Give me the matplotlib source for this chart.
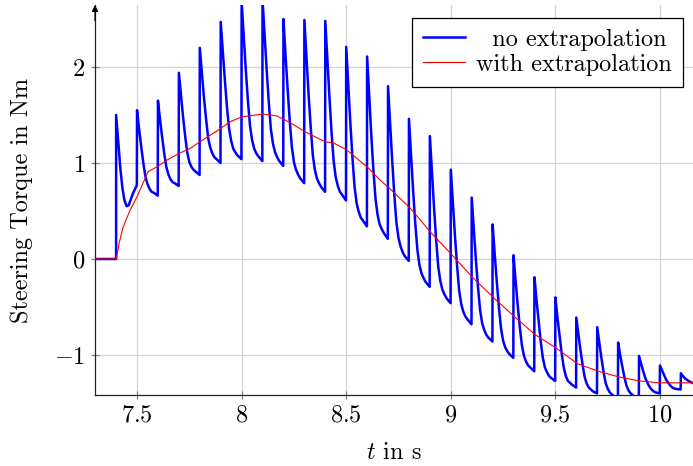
import numpy as np
import matplotlib
matplotlib.use("Agg")
import matplotlib.pyplot as plt

# ---------------- data ----------------
# red curve: steering torque with extrapolation
red_t = [7.30, 7.40, 7.415, 7.433, 7.467, 7.50, 7.553, 7.595, 7.643, 7.70, 7.753,
         7.80, 7.90, 7.945, 8.00, 8.10, 8.17, 8.232, 8.30, 8.40, 8.438, 8.50,
         8.605, 8.663, 8.705, 8.806, 8.907, 9.007, 9.103, 9.208, 9.304, 9.404,
         9.505, 9.605, 9.706, 9.806, 9.90, 10.0, 10.1, 10.16]
red_y = [0.0, 0.0, 0.17, 0.33, 0.51, 0.65, 0.91, 0.96, 1.03, 1.10, 1.15,
         1.22, 1.36, 1.43, 1.48, 1.51, 1.49, 1.42, 1.33, 1.22, 1.21, 1.14,
         0.95, 0.82, 0.74, 0.53, 0.27, 0.04, -0.19, -0.41, -0.60, -0.79,
         -0.93, -1.09, -1.17, -1.23, -1.27, -1.29, -1.29, -1.29]

# blue curve: steering torque without extrapolation
blue_pre_t = [7.30, 7.40]
blue_pre_y = [0.0, 0.0]
cycle_start = 7.40      # first update instant
cycle_period = 0.1      # update period in s
cycle_dt = [0.0, 0.01, 0.02, 0.03, 0.04, 0.05, 0.06, 0.07, 0.08, 0.099]
blue_cycles = [
    [1.50, 1.22, 0.95, 0.74, 0.61, 0.55, 0.56, 0.62, 0.68, 0.77],          # 7.4
    [1.55, 1.35, 1.17, 1.00, 0.86, 0.78, 0.73, 0.70, 0.69, 0.66],          # 7.5
    [1.65, 1.45, 1.27, 1.10, 0.96, 0.88, 0.83, 0.80, 0.79, 0.76],          # 7.6
    [1.94, 1.71, 1.48, 1.28, 1.11, 1.01, 0.96, 0.93, 0.91, 0.875],         # 7.7
    [2.20, 1.94, 1.68, 1.46, 1.26, 1.16, 1.10, 1.06, 1.04, 1.00],          # 7.8
    [2.47, 2.16, 1.86, 1.58, 1.36, 1.23, 1.15, 1.11, 1.08, 1.04],          # 7.9
    [2.68, 2.32, 1.97, 1.65, 1.39, 1.24, 1.15, 1.10, 1.07, 1.02],          # 8.0
    [2.70, 2.32, 1.96, 1.63, 1.35, 1.20, 1.11, 1.06, 1.02, 0.97],          # 8.1
    [2.50, 2.12, 1.77, 1.44, 1.17, 1.01, 0.93, 0.88, 0.84, 0.79],          # 8.2
    [2.49, 2.10, 1.72, 1.38, 1.09, 0.93, 0.84, 0.79, 0.75, 0.70],          # 8.3
    [2.48, 2.07, 1.68, 1.32, 1.02, 0.85, 0.76, 0.70, 0.67, 0.61],          # 8.4
    [2.21, 1.80, 1.41, 1.05, 0.75, 0.58, 0.49, 0.43, 0.40, 0.34],          # 8.5
    [2.11, 1.69, 1.29, 0.93, 0.63, 0.46, 0.36, 0.31, 0.27, 0.21],          # 8.6
    [1.80, 1.40, 1.02, 0.67, 0.38, 0.22, 0.13, 0.07, 0.03, -0.02],         # 8.7
    [1.46, 1.08, 0.71, 0.38, 0.10, -0.06, -0.15, -0.20, -0.24, -0.29],     # 8.8
    [1.28, 0.90, 0.53, 0.20, -0.08, -0.23, -0.32, -0.37, -0.41, -0.46],    # 8.9
    [0.93, 0.58, 0.24, -0.07, -0.33, -0.47, -0.55, -0.60, -0.63, -0.68],   # 9.0
    [0.64, 0.31, -0.01, -0.29, -0.53, -0.67, -0.74, -0.79, -0.82, -0.86],  # 9.1
    [0.36, 0.05, -0.24, -0.50, -0.72, -0.85, -0.92, -0.96, -0.99, -1.03],  # 9.2
    [0.04, -0.23, -0.48, -0.71, -0.90, -1.01, -1.07, -1.11, -1.13, -1.17], # 9.3
    [-0.19, -0.43, -0.65, -0.86, -1.03, -1.13, -1.18, -1.22, -1.24, -1.27],# 9.4
    [-0.40, -0.61, -0.80, -0.98, -1.13, -1.22, -1.27, -1.29, -1.31, -1.34],# 9.5
    [-0.61, -0.78, -0.95, -1.10, -1.23, -1.30, -1.34, -1.36, -1.38, -1.40],# 9.6
    [-0.71, -0.87, -1.03, -1.17, -1.29, -1.35, -1.39, -1.41, -1.43, -1.45],# 9.7
    [-0.87, -1.00, -1.12, -1.23, -1.32, -1.37, -1.40, -1.42, -1.43, -1.45],# 9.8
    [-1.01, -1.09, -1.17, -1.24, -1.29, -1.33, -1.36, -1.38, -1.39, -1.40],# 9.9
    [-1.11, -1.16, -1.21, -1.26, -1.29, -1.32, -1.34, -1.35, -1.355, -1.36],# 10.0
    [-1.19, -1.22, -1.245, -1.26, -1.275, -1.285, -1.295, -1.30, -1.305, -1.31],# 10.1
]

x_ticks = [7.5, 8.0, 8.5, 9.0, 9.5, 10.0]
x_tick_labels = ["7.5", "8", "8.5", "9", "9.5", "10"]
y_ticks = [-1, 0, 1, 2]
y_tick_labels = ["-1", "0", "1", "2"]
series_labels = ["no extrapolation", "with extrapolation"]

# ---------------- build blue series ----------------
blue_t = list(blue_pre_t)
blue_y = list(blue_pre_y)
for k, vals in enumerate(blue_cycles):
    t0 = cycle_start + k * cycle_period
    for dt, v in zip(cycle_dt, vals):
        blue_t.append(t0 + dt)
        blue_y.append(v)

# ---------------- styling ----------------
plt.rcParams["font.family"] = ["cmr10", "DejaVu Serif"]
plt.rcParams["mathtext.fontset"] = "cm"
plt.rcParams["axes.unicode_minus"] = False

FS = 17.5
W, H = 693, 466
fig = plt.figure(figsize=(W / 100, H / 100), dpi=100)
left, right, top, bottom = 95, 693, 5, 395
ax = fig.add_axes([left / W, 1 - bottom / H, (right - left) / W, (bottom - top) / H])

ax.plot(blue_t, blue_y, color="#0000ff", lw=1.8, zorder=3,
        label="  " + series_labels[0])
ax.plot(red_t, red_y, color="#ff0000", lw=0.8, zorder=4, label=series_labels[1])

ax.set_xlim(7.299, 10.158)
ax.set_ylim(-1.417, 2.646)

ax.set_xticks(x_ticks)
ax.set_xticklabels([f"${s}$" for s in x_tick_labels])
ax.set_yticks(y_ticks)
ax.set_yticklabels([f"${s}$" for s in y_tick_labels])
ax.tick_params(axis="both", direction="inout", length=6, width=0.8,
               color="#777777", labelsize=FS, pad=4)

ax.grid(True, color="#d3d3d3", lw=0.9, zorder=0)
ax.set_axisbelow(True)

for s in ["top", "right"]:
    ax.spines[s].set_visible(False)
for s in ["left", "bottom"]:
    ax.spines[s].set_color("#222222")
    ax.spines[s].set_linewidth(0.9)

ax.annotate("", xy=(0, 1.0), xycoords="axes fraction",
            xytext=(0, 0.96), textcoords="axes fraction",
            arrowprops=dict(arrowstyle="-|>", color="black", lw=0.9,
                            mutation_scale=9, shrinkA=0, shrinkB=0),
            annotation_clip=False)

ax.set_xlabel(r"$t$ in s", fontsize=FS, labelpad=11)
ax.set_ylabel("Steering Torque in Nm", fontsize=FS, labelpad=15)

leg = ax.legend(loc="upper right", bbox_to_anchor=(0.983, 0.967),
                borderaxespad=0, fontsize=FS, frameon=True, fancybox=False,
                framealpha=1, edgecolor="black", handlelength=1.75,
                handletextpad=0.45, borderpad=0.45, labelspacing=0.12)
leg.get_frame().set_linewidth(0.9)

fig.savefig("out.png", dpi=100)
